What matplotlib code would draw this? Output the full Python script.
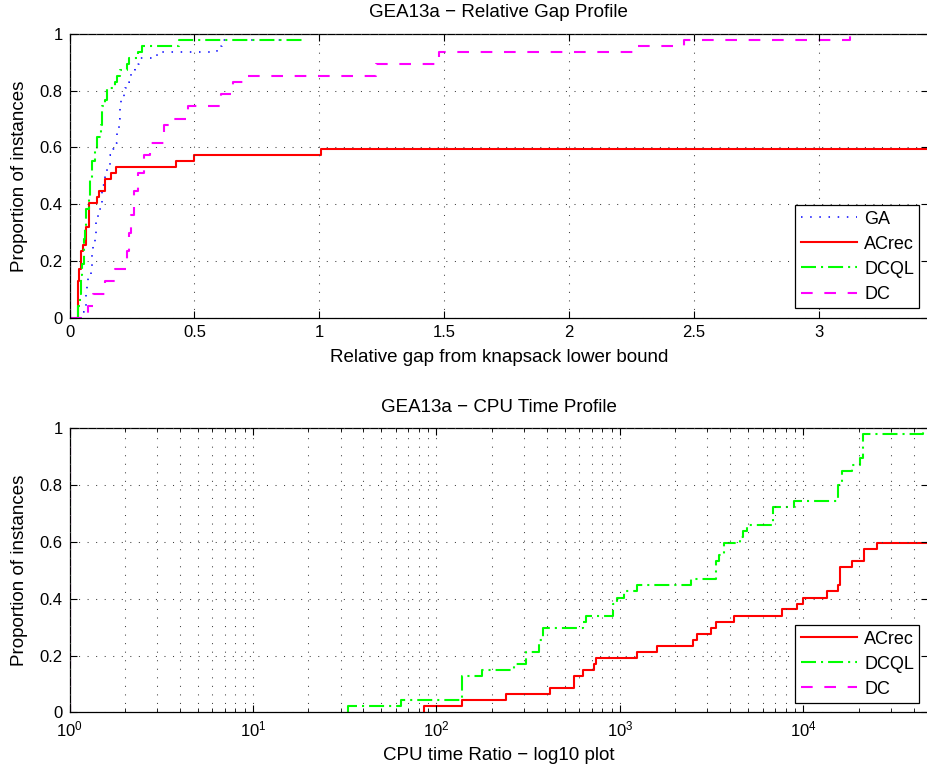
import matplotlib
matplotlib.use("Agg")
import matplotlib.pyplot as plt
from matplotlib.ticker import LogLocator, NullFormatter

plt.rcParams['font.family'] = ['Liberation Sans', 'DejaVu Sans']
plt.rcParams['mathtext.fontset'] = 'custom'
plt.rcParams['mathtext.rm'] = 'Liberation Sans'
plt.rcParams['mathtext.it'] = 'Liberation Sans:italic'
plt.rcParams['mathtext.default'] = 'regular'

# ---------------- data: relative gap profile ----------------
gap_ga_x = [0.04, 0.044, 0.057, 0.067, 0.07, 0.075, 0.084, 0.09, 0.093, 0.1, 0.104, 0.107,
            0.115, 0.117, 0.13, 0.144, 0.151, 0.164, 0.175, 0.184, 0.19, 0.197, 0.201,
            0.208, 0.22, 0.224, 0.237, 0.244, 0.248, 0.264, 0.277, 0.35, 0.59, 0.61, 0.93]
gap_ga_y = [0.0, 0.021, 0.043, 0.085, 0.128, 0.149, 0.17, 0.234, 0.255, 0.277, 0.298, 0.34,
            0.362, 0.383, 0.468, 0.511, 0.532, 0.574, 0.596, 0.617, 0.66, 0.702, 0.745,
            0.766, 0.787, 0.809, 0.83, 0.851, 0.872, 0.894, 0.915, 0.936, 0.957, 0.979, 0.979]

gap_acrec_x = [0.03, 0.033, 0.038, 0.045, 0.055, 0.064, 0.077, 0.108, 0.117, 0.14,
               0.166, 0.186, 0.428, 0.499, 1.007, 3.436]
gap_acrec_y = [0.0, 0.128, 0.17, 0.234, 0.255, 0.319, 0.404, 0.426, 0.447, 0.489,
               0.511, 0.532, 0.553, 0.574, 0.596, 0.596]

gap_dcql_x = [0.03, 0.033, 0.04, 0.045, 0.05, 0.057, 0.06, 0.067, 0.077, 0.08, 0.09, 0.1,
              0.11, 0.124, 0.128, 0.141, 0.151, 0.184, 0.19, 0.204, 0.23, 0.237, 0.275,
              0.29, 0.437, 0.93]
gap_dcql_y = [0.0, 0.043, 0.085, 0.149, 0.191, 0.277, 0.319, 0.383, 0.426, 0.489, 0.553,
              0.596, 0.638, 0.681, 0.745, 0.766, 0.809, 0.83, 0.851, 0.872, 0.894, 0.915,
              0.936, 0.957, 0.979, 0.979]

gap_dc_x = [0.0, 0.075, 0.093, 0.141, 0.184, 0.23, 0.24, 0.248, 0.26, 0.275, 0.297, 0.324,
            0.38, 0.404, 0.473, 0.607, 0.653, 0.70, 1.227, 1.48, 2.267, 2.46, 3.124]
gap_dc_y = [0.0, 0.043, 0.085, 0.128, 0.17, 0.234, 0.298, 0.362, 0.447, 0.511, 0.574,
            0.617, 0.681, 0.702, 0.745, 0.787, 0.83, 0.851, 0.894, 0.936, 0.957, 0.979, 1.0]

# ---------------- data: CPU time profile ----------------
cpu_acrec_x = [86, 86, 137, 240, 418, 561, 628, 721, 742, 1233, 1585, 2512, 2618, 3120,
               3325, 4180, 7680, 9270, 10000, 13520, 15340, 15850, 18500, 21400, 25100, 47700]
cpu_acrec_y = [0.0, 0.021, 0.043, 0.064, 0.085, 0.128, 0.149, 0.17, 0.191, 0.213, 0.234,
               0.255, 0.277, 0.298, 0.319, 0.34, 0.362, 0.383, 0.404, 0.426, 0.447, 0.511,
               0.532, 0.574, 0.596, 0.596]

cpu_dcql_x = [33, 33, 64, 137, 176, 263, 309, 361, 380, 628, 655, 919, 967, 1050, 1242,
              2427, 3325, 3450, 3700, 4500, 4700, 4950, 6860, 8890, 15400, 16300, 18500,
              20400, 21250, 44600]
cpu_dcql_y = [0.0, 0.021, 0.043, 0.128, 0.149, 0.17, 0.213, 0.255, 0.298, 0.319, 0.34,
              0.383, 0.404, 0.426, 0.447, 0.468, 0.532, 0.553, 0.596, 0.617, 0.638, 0.66,
              0.723, 0.745, 0.80, 0.851, 0.872, 0.894, 0.979, 1.0]

cpu_dc_x = [1, 1]
cpu_dc_y = [0.0, 1.0]

gap_xticks = [0, 0.5, 1, 1.5, 2, 2.5, 3]
gap_xticklabels = ['0', '0.5', '1', '1.5', '2', '2.5', '3']
yticks = [0, 0.2, 0.4, 0.6, 0.8, 1]
yticklabels = ['0', '0.2', '0.4', '0.6', '0.8', '1']
cpu_xticks = [1, 10, 100, 1000, 10000]
cpu_xticklabels = [r'$10^{0}$', r'$10^{1}$', r'$10^{2}$', r'$10^{3}$', r'$10^{4}$']

# ---------------- styles ----------------
FS_TICK = 12
FS_LAB = 13.5
FS_LEG = 13
blue = (0, 0, 1)
red = (1, 0, 0)
green = (0, 1, 0)
mag = (1, 0, 1)
ls_ga = (0, (1, 5))
ls_dcql = (0, (7.2, 2.4, 1, 2.4))
ls_dc = (0, (5.6, 5.6))
grid_kw = dict(color='0.25', linewidth=0.75, linestyle=(0, (1, 7.2)))
leg_kw = dict(loc='lower right', borderaxespad=0, fontsize=FS_LEG, handlelength=3.1,
              handletextpad=0.4, labelspacing=0.45, borderpad=0.3, fancybox=False,
              framealpha=1, edgecolor='black')

fig = plt.figure(figsize=(9.27, 7.73), dpi=100)
ax1 = fig.add_axes([0.075, 0.589, 0.926, 0.367])
ax2 = fig.add_axes([0.075, 0.0785, 0.926, 0.3675])

# ---- top ----
ax1.plot(gap_ga_x, gap_ga_y, drawstyle='steps-post', color=blue, lw=1.1, linestyle=ls_ga, label='GA')
ax1.plot(gap_acrec_x, gap_acrec_y, drawstyle='steps-post', color=red, lw=1.5, label='ACrec')
ax1.plot(gap_dcql_x, gap_dcql_y, drawstyle='steps-post', color=green, lw=1.5, linestyle=ls_dcql, label='DCQL')
ax1.plot(gap_dc_x, gap_dc_y, drawstyle='steps-post', color=mag, lw=1.5, linestyle=ls_dc, label='DC')
ax1.set_xlim(0, 3.436)
ax1.set_ylim(0, 1)
ax1.set_xticks(gap_xticks)
ax1.set_xticklabels(gap_xticklabels)
ax1.set_yticks(yticks)
ax1.set_yticklabels(yticklabels)
ax1.grid(True, which='major', **grid_kw)
ax1.set_title('GEA13a \u2212 Relative Gap Profile', fontsize=FS_LAB, pad=12)
ax1.set_xlabel('Relative gap from knapsack lower bound', fontsize=FS_LAB, labelpad=7)
ax1.set_ylabel('Proportion of instances', fontsize=FS_LAB, labelpad=8)
leg1 = ax1.legend(bbox_to_anchor=(0.99, 0.033), **leg_kw)
leg1.get_frame().set_linewidth(0.9)

# ---- bottom ----
ax2.set_xscale('log')
ax2.plot(cpu_acrec_x, cpu_acrec_y, drawstyle='steps-post', color=red, lw=1.5, label='ACrec')
ax2.plot(cpu_dcql_x, cpu_dcql_y, drawstyle='steps-post', color=green, lw=1.5, linestyle=ls_dcql, label='DCQL')
ax2.plot(cpu_dc_x, cpu_dc_y, drawstyle='steps-post', color=mag, lw=1.5, linestyle=ls_dc, label='DC')
ax2.set_xlim(1, 47700)
ax2.set_ylim(0, 1)
ax2.set_xticks(cpu_xticks)
ax2.set_xticklabels(cpu_xticklabels)
ax2.xaxis.set_minor_locator(LogLocator(base=10, subs=range(2, 10), numticks=20))
ax2.xaxis.set_minor_formatter(NullFormatter())
ax2.set_yticks(yticks)
ax2.set_yticklabels(yticklabels)
ax2.grid(True, which='major', **grid_kw)
ax2.grid(True, which='minor', axis='x', **grid_kw)
ax2.set_title('GEA13a \u2212 CPU Time Profile', fontsize=FS_LAB, pad=12)
ax2.set_xlabel('CPU time Ratio \u2212 log10 plot', fontsize=FS_LAB, labelpad=6)
ax2.set_ylabel('Proportion of instances', fontsize=FS_LAB, labelpad=8)
leg2 = ax2.legend(bbox_to_anchor=(0.99, 0.032), **leg_kw)
leg2.get_frame().set_linewidth(0.9)

for ax in (ax1, ax2):
    ax.tick_params(which='both', direction='in', top=True, right=True, labelsize=FS_TICK, pad=5)
    ax.tick_params(which='major', length=5, width=0.8)
    ax.tick_params(which='minor', length=3, width=0.6)
    for s in ax.spines.values():
        s.set_linewidth(0.9)
    ax.set_axisbelow(False)

fig.savefig('out.png', dpi=100)
